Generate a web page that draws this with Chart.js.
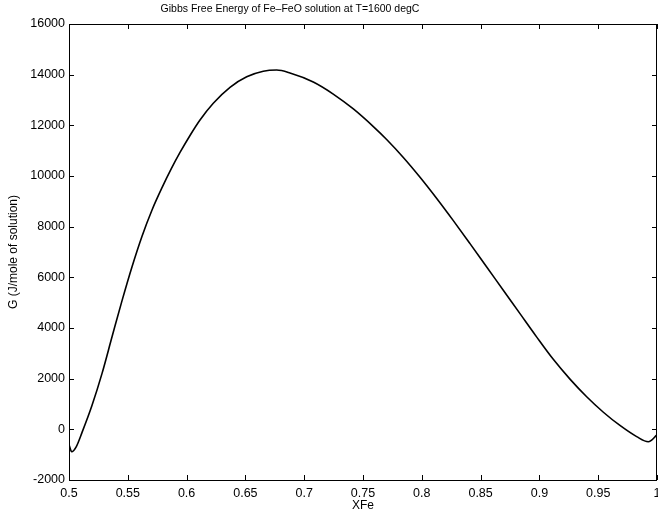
<!DOCTYPE html>
<html>
<head>
<meta charset="utf-8">
<title>Gibbs Free Energy of Fe-FeO solution</title>
<script src="https://cdn.jsdelivr.net/npm/chart.js@4/dist/chart.umd.min.js"></script>
<style>
  html, body { margin: 0; padding: 0; background: #fff; }
  #wrap { width: 658px; height: 519px; }
</style>
</head>
<body>
<div id="wrap"><canvas id="gibbsChart"></canvas></div>
<script>
// ===================== Data =====================
const xFe = [0.5, 0.5023, 0.506, 0.5111, 0.5196, 0.5281, 0.5366, 0.5451, 0.5536, 0.5621,
  0.5706, 0.5791, 0.587, 0.5944, 0.6029, 0.6114, 0.6227, 0.6369, 0.6511, 0.6652,
  0.6766, 0.6879, 0.7077, 0.7247, 0.7418, 0.7588, 0.7701, 0.7843, 0.7985, 0.8127,
  0.8268, 0.841, 0.8552, 0.8693, 0.8835, 0.8976, 0.9118, 0.926, 0.9402, 0.9544,
  0.9685, 0.9827, 0.9926, 1.0];
const gValues = [-600, -884, -700, -120, 950, 2209, 3653, 5080, 6420, 7625,
  8660, 9540, 10290, 10930, 11600, 12210, 12870, 13500, 13915, 14136,
  14182, 14067, 13711, 13235, 12645, 11950, 11442, 10732, 9951, 9113,
  8239, 7330, 6407, 5490, 4567, 3650, 2763, 1982, 1286, 675,
  153, -287, -490, -220];

const xTicks = [0.5, 0.55, 0.6, 0.65, 0.7, 0.75, 0.8, 0.85, 0.9, 0.95, 1];
const yTicks = [-2000, 0, 2000, 4000, 6000, 8000, 10000, 12000, 14000, 16000];

const chartTitle = 'Gibbs Free Energy of Fe\u2013FeO solution at T=1600 degC';
const xLabel = 'XFe';
const yLabel = 'G (J/mole of solution)';

const FONT = "'Liberation Sans', Arial, Helvetica, sans-serif";

// ===================== Title (sits left of centre in the original) =====================
const offsetTitle = {
  id: 'offsetTitle',
  afterDraw(chart) {
    const c = chart.ctx;
    c.save();
    c.fillStyle = '#000';
    c.font = '10.5px ' + FONT;
    c.textAlign = 'center';
    c.textBaseline = 'middle';
    c.fillText(chartTitle, 290, 9);
    c.restore();
  }
};

// ===================== Matlab-style box + inward ticks =====================
const boxTicks = {
  id: 'boxTicks',
  afterDraw(chart) {
    const { ctx, chartArea: a, scales } = chart;
    const len = 5;
    ctx.save();
    ctx.strokeStyle = '#000';
    ctx.lineWidth = 1;
    ctx.strokeRect(a.left + 0.5, a.top + 0.5, a.right - a.left - 1, a.bottom - a.top);
    ctx.beginPath();
    xTicks.forEach(v => {
      const px = Math.round(scales.x.getPixelForValue(v)) + 0.5;
      ctx.moveTo(px, a.bottom); ctx.lineTo(px, a.bottom - len);
      ctx.moveTo(px, a.top); ctx.lineTo(px, a.top + len);
    });
    yTicks.forEach(v => {
      const py = Math.round(scales.y.getPixelForValue(v)) + 0.5;
      ctx.moveTo(a.left, py); ctx.lineTo(a.left + len, py);
      ctx.moveTo(a.right, py); ctx.lineTo(a.right - len, py);
    });
    ctx.stroke();
    ctx.restore();
  }
};

const ctx = document.getElementById('gibbsChart').getContext('2d');

new Chart(ctx, {
  type: 'line',
  data: {
    datasets: [{
      label: 'G',
      data: xFe.map((x, i) => ({ x: x, y: gValues[i] })),
      borderColor: '#000',
      borderWidth: 1.6,
      pointRadius: 0,
      fill: false,
      cubicInterpolationMode: 'monotone'
    }]
  },
  options: {
    responsive: true,
    maintainAspectRatio: false,
    animation: false,
    layout: { padding: { left: 0, right: 1, top: 24, bottom: 0 } },
    plugins: {
      legend: { display: false },
      tooltip: { enabled: false },
      title: { display: false }
    },
    scales: {
      x: {
        type: 'linear',
        min: 0.5,
        max: 1,
        afterBuildTicks: s => { s.ticks = xTicks.map(v => ({ value: v })); },
        afterFit: s => { s.height = 39; s.paddingLeft = 0; s.paddingRight = 0; },
        grid: { display: false, drawTicks: false },
        border: { display: false },
        ticks: {
          color: '#000',
          padding: 6,
          maxRotation: 0,
          autoSkip: false,
          font: { family: FONT, size: 12.5 },
          callback: v => String(+v.toFixed(2))
        },
        title: {
          display: true,
          text: xLabel,
          color: '#000',
          font: { family: FONT, size: 12, lineHeight: 1.2 },
          padding: { top: 0, bottom: 6 }
        }
      },
      y: {
        min: -2000,
        max: 16000,
        afterBuildTicks: s => { s.ticks = yTicks.map(v => ({ value: v })); },
        afterFit: s => { s.width = 69; s.paddingTop = 0; s.paddingBottom = 0; },
        grid: { display: false, drawTicks: false },
        border: { display: false },
        ticks: {
          color: '#000',
          padding: 4,
          autoSkip: false,
          font: { family: FONT, size: 12.5 },
          callback: v => String(v)
        },
        title: {
          display: true,
          text: yLabel,
          color: '#000',
          font: { family: FONT, size: 12, lineHeight: 1.2 },
          padding: { top: 6, bottom: 0 }
        }
      }
    }
  },
  plugins: [boxTicks, offsetTitle]
});
</script>
</body>
</html>
